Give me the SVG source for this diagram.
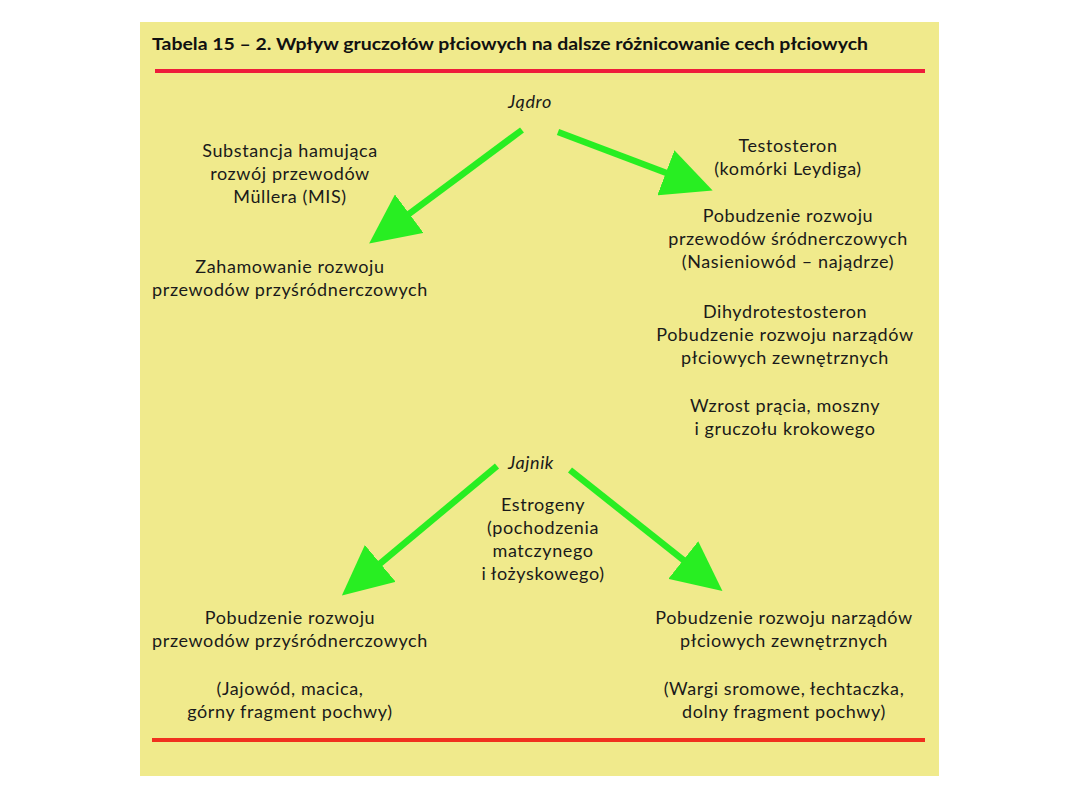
<svg xmlns="http://www.w3.org/2000/svg" width="1080" height="810" viewBox="0 0 1080 810">
<style>
.t{font-family:Lato,"Open Sans","DejaVu Sans",sans-serif;font-size:18px;letter-spacing:0.6px;fill:#1a1a1a;text-anchor:middle}
.i{font-style:italic}
.title{font-family:Lato,"Liberation Sans",sans-serif;font-weight:bold;font-size:17px;fill:#111}
.arr{stroke:#28ee22;stroke-width:6.5;fill:none;marker-end:url(#ah)}
</style>
<defs>
<marker id="ah" markerUnits="userSpaceOnUse" markerWidth="52" markerHeight="48" refX="29" refY="24" orient="auto" viewBox="0 0 52 48">
<path d="M0,0 L50,24 L0,48 z" fill="#28ee22"/>
</marker>
</defs>
<rect width="1080" height="810" fill="#fff"/>
<rect x="140" y="22" width="799" height="754" fill="#f0ea8c"/>
<g id="header">
<text class="title" x="152" y="50" textLength="716" lengthAdjust="spacingAndGlyphs">Tabela 15 – 2. Wpływ gruczołów płciowych na dalsze różnicowanie cech płciowych</text>
<rect x="155" y="69" width="770" height="4" fill="#ee1c3a"/>
</g>
<g id="jadro"><text class="t i" x="530" y="108">Jądro</text></g>
<g id="mis">
<text class="t" x="290" y="157">Substancja hamująca</text>
<text class="t" x="290" y="180">rozwój przewodów</text>
<text class="t" x="290" y="203">Müllera (MIS)</text>
</g>
<g id="zahamowanie">
<text class="t" x="290" y="273">Zahamowanie rozwoju</text>
<text class="t" x="290" y="296">przewodów przyśródnerczowych</text>
</g>
<g id="testosteron">
<text class="t" x="788" y="152">Testosteron</text>
<text class="t" x="788" y="175">(komórki Leydiga)</text>
</g>
<g id="pobudzenie-srodnercz">
<text class="t" x="788" y="222">Pobudzenie rozwoju</text>
<text class="t" x="788" y="245">przewodów śródnerczowych</text>
<text class="t" x="788" y="268">(Nasieniowód – najądrze)</text>
</g>
<g id="dht">
<text class="t" x="785" y="318">Dihydrotestosteron</text>
<text class="t" x="785" y="341">Pobudzenie rozwoju narządów</text>
<text class="t" x="785" y="364">płciowych zewnętrznych</text>
</g>
<g id="wzrost">
<text class="t" x="785" y="412">Wzrost prącia, moszny</text>
<text class="t" x="785" y="435">i gruczołu krokowego</text>
</g>
<g id="jajnik"><text class="t i" x="531" y="469">Jajnik</text></g>
<g id="estrogeny">
<text class="t" x="543" y="511">Estrogeny</text>
<text class="t" x="543" y="534">(pochodzenia</text>
<text class="t" x="543" y="557">matczynego</text>
<text class="t" x="543" y="580">i łożyskowego)</text>
</g>
<g id="pobudzenie-przysrodnercz">
<text class="t" x="290" y="624">Pobudzenie rozwoju</text>
<text class="t" x="290" y="647">przewodów przyśródnerczowych</text>
<text class="t" x="290" y="695">(Jajowód, macica,</text>
<text class="t" x="290" y="718">górny fragment pochwy)</text>
</g>
<g id="pobudzenie-zewn">
<text class="t" x="784" y="624">Pobudzenie rozwoju narządów</text>
<text class="t" x="784" y="647">płciowych zewnętrznych</text>
<text class="t" x="784" y="695">(Wargi sromowe, łechtaczka,</text>
<text class="t" x="784" y="718">dolny fragment pochwy)</text>
</g>
<g id="footer"><rect x="152" y="738" width="773" height="4" fill="#f0301e"/></g>
<g id="connectors">
<line class="arr" x1="522" y1="130" x2="386" y2="231"/>
<line class="arr" x1="558" y1="132" x2="693" y2="183"/>
<line class="arr" x1="497" y1="466" x2="358" y2="582"/>
<line class="arr" x1="570" y1="470" x2="706" y2="578"/>
</g>
</svg>
